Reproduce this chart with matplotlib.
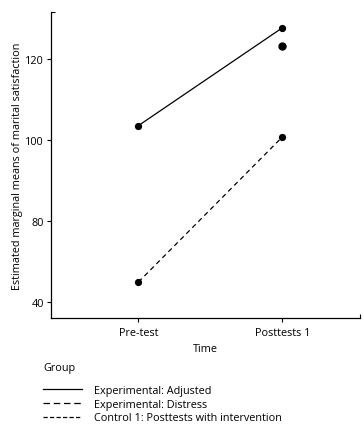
import numpy as np
import matplotlib
matplotlib.use('Agg')
import matplotlib.pyplot as plt
from matplotlib.lines import Line2D

plt.rcParams['font.family'] = ['Open Sans', 'DejaVu Sans']

# data
times = ['Pre-test', 'Posttests 1']
groups = ['Experimental: Adjusted', 'Experimental: Distress', 'Control 1: Posttests with intervention']
adjusted = [103.5, 127.6]
distress = [49.9, 100.7]
control_post = [123.1]
yticks = [40, 80, 100, 120]

# y axis is not linear: ticks are evenly spaced
ybrk_val = [0, 40, 80, 100, 120, 200]
ybrk_pos = [-1, 0, 1, 2, 3, 7]
def fwd(v):
    return np.interp(v, ybrk_val, ybrk_pos)
def inv(p):
    return np.interp(p, ybrk_pos, ybrk_val)

fs = 7.8
fig = plt.figure(figsize=(3.64, 4.27), dpi=100)
ax = fig.add_axes([50.7/364, 1-318.7/427, (360-50.7)/364, (318.7-13)/427])
ax.set_yscale('function', functions=(fwd, inv))

x = np.arange(len(times))
ax.plot(x, adjusted, color='black', lw=0.9, ls='-')
ax.plot(x, distress, color='black', lw=0.9, ls=(0, (3.8, 3.0)))
ax.plot(x, adjusted, 'o', color='black', ms=4.2)
ax.plot(x, distress, 'o', color='black', ms=4.2)
ax.plot([1], control_post, 'o', color='black', ms=5)

ax.set_xlim(-0.61, 1.54)
ax.set_ylim(32.3, 131.5)
ax.set_xticks(x)
ax.set_xticklabels(times)
ax.set_yticks(yticks)
ax.set_yticklabels([str(t) for t in yticks])
ax.yaxis.set_minor_locator(matplotlib.ticker.FixedLocator([131.5]))
ax.xaxis.set_minor_locator(matplotlib.ticker.FixedLocator([1.54]))
ax.yaxis.set_minor_formatter(matplotlib.ticker.NullFormatter())
ax.tick_params(which='major', direction='out', length=3, width=0.8, labelsize=fs, pad=2)
ax.tick_params(axis='x', which='major', pad=3.5)
ax.tick_params(which='minor', direction='in', length=3, width=0.8)
ax.spines['top'].set_visible(False)
ax.spines['right'].set_visible(False)
for s in ['left', 'bottom']:
    ax.spines[s].set_linewidth(0.9)

ax.set_xlabel('Time', fontsize=fs, labelpad=4)
ax.set_ylabel('Estimated marginal means of marital satisfaction', fontsize=fs, labelpad=1.5)

# legend title and proxies
fig.text(43/364, 1-368.5/427, 'Group', fontsize=fs, ha='left', va='center')
h1 = Line2D([], [], color='black', lw=0.9, ls='-')
h2 = Line2D([], [], color='black', lw=0.9, ls=(0, (5.2, 3.0)))
h3 = Line2D([], [], color='black', lw=0.9, ls=(0, (3.4, 1.8)))
leg = fig.legend([h1, h2, h3], groups, loc='upper left',
                 bbox_to_anchor=(43/364, 1-386/427), frameon=False, fontsize=fs,
                 handlelength=3.6, handletextpad=1.1,
                 labelspacing=0.25, borderpad=0, borderaxespad=0)

fig.savefig('out.png', dpi=100)
